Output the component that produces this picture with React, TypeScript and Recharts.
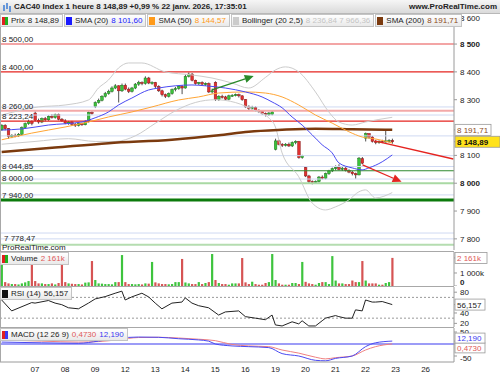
import React from 'react';
import { ComposedChart, Bar, Line, XAxis, YAxis, ReferenceLine } from 'recharts';

const FONT = '"Liberation Sans", Arial, sans-serif';
const SLOTS = 136; // 118 hourly candles + room for 23 and 26 janv.
const AXIS_W = 46;

// hourly candles, from 05/01 17h to 22/01 17h
const opens = [
  8192, 8208, 8196, 8168, 8172, 8170, 8176, 8200, 8214, 8222,
  8252, 8226, 8220, 8232, 8228, 8240, 8236, 8246, 8230,
  8224, 8216, 8220, 8212, 8208, 8214, 8210, 8222, 8254,
  8275, 8290, 8298, 8312, 8322, 8330, 8342, 8350, 8332,
  8352, 8338, 8330, 8342, 8356, 8362, 8358, 8378, 8358,
  8362, 8348, 8332, 8318, 8312, 8322, 8336, 8340, 8348,
  8342, 8384, 8392, 8370, 8358, 8362, 8356, 8358, 8328,
  8362, 8300, 8312, 8310, 8302, 8314, 8316, 8318, 8314,
  8300, 8274, 8268, 8272, 8262, 8258, 8250, 8246, 8248,
  8122, 8152, 8140, 8136, 8140, 8134, 8146, 8150, 8092,
  8056, 8026, 8006, 8004, 8006, 8022, 8018, 8034, 8044,
  8052, 8056, 8050, 8054, 8046, 8040, 8034, 8030, 8088,
  8162, 8178, 8166, 8150, 8146, 8150, 8148, 8152, 8154,
];
const highs = [
  8212, 8212, 8198, 8176, 8178, 8180, 8204, 8218, 8228, 8226,
  8258, 8232, 8236, 8238, 8244, 8248, 8250, 8250, 8234,
  8230, 8224, 8224, 8216, 8218, 8218, 8226, 8258, 8262,
  8294, 8304, 8316, 8328, 8336, 8348, 8356, 8352, 8358,
  8358, 8344, 8346, 8360, 8368, 8366, 8384, 8382, 8366,
  8364, 8352, 8336, 8322, 8326, 8340, 8346, 8350, 8352,
  8390, 8398, 8396, 8372, 8364, 8366, 8362, 8362, 8340,
  8366, 8316, 8318, 8314, 8318, 8320, 8322, 8322, 8316,
  8302, 8280, 8278, 8276, 8266, 8262, 8254, 8256, 8260,
  8160, 8156, 8144, 8144, 8146, 8150, 8154, 8152, 8102,
  8060, 8030, 8010, 8010, 8026, 8028, 8038, 8048, 8056,
  8064, 8068, 8060, 8058, 8050, 8044, 8038, 8094, 8094,
  8182, 8180, 8170, 8156, 8154, 8156, 8190, 8158, 8160,
];
const lows = [
  8188, 8190, 8160, 8162, 8165, 8166, 8172, 8196, 8210, 8208,
  8222, 8214, 8216, 8222, 8224, 8232, 8232, 8226, 8220,
  8212, 8210, 8206, 8202, 8204, 8206, 8208, 8218, 8246,
  8270, 8286, 8294, 8308, 8318, 8326, 8338, 8290, 8328,
  8334, 8324, 8326, 8338, 8350, 8352, 8354, 8356, 8354,
  8342, 8328, 8312, 8306, 8308, 8318, 8330, 8336, 8320,
  8340, 8380, 8366, 8354, 8352, 8352, 8350, 8324, 8322,
  8296, 8296, 8304, 8298, 8298, 8310, 8312, 8308, 8296,
  8270, 8262, 8262, 8258, 8252, 8246, 8240, 8242, 8244,
  8118, 8136, 8130, 8132, 8130, 8130, 8140, 8088, 8088,
  8022, 8000, 7996, 7998, 8002, 8014, 8014, 8030, 8040,
  8046, 8046, 8044, 8042, 8036, 8028, 8016, 8028, 8068,
  8150, 8160, 8146, 8140, 8142, 8144, 8146, 8146, 8142,
];
const closes = [
  8208, 8196, 8168, 8172, 8170, 8176, 8200, 8214, 8222, 8215,
  8226, 8220, 8232, 8228, 8240, 8236, 8246, 8230, 8224,
  8216, 8220, 8212, 8208, 8214, 8210, 8222, 8254, 8250,
  8290, 8298, 8312, 8322, 8330, 8342, 8350, 8332, 8352,
  8338, 8330, 8342, 8356, 8362, 8358, 8378, 8360, 8362,
  8348, 8332, 8318, 8312, 8322, 8336, 8340, 8348, 8342,
  8384, 8392, 8370, 8358, 8362, 8356, 8358, 8328, 8332,
  8300, 8312, 8310, 8302, 8314, 8316, 8318, 8314, 8300,
  8274, 8268, 8272, 8262, 8258, 8250, 8246, 8252, 8256,
  8152, 8140, 8136, 8140, 8134, 8146, 8150, 8092, 8098,
  8026, 8006, 8004, 8006, 8022, 8018, 8034, 8044, 8052,
  8056, 8050, 8054, 8046, 8040, 8034, 8030, 8090, 8072,
  8178, 8166, 8150, 8146, 8150, 8148, 8152, 8154, 8148.89,
];
// volume in thousands
const volumes = [
  2400, 300, 200, 150, 150, 120, 200, 280, 380, 1850,
  380, 200, 200, 150, 150, 200, 120, 230, 2230,
  300, 200, 170, 150, 150, 120, 260, 280, 1920,
  460, 200, 180, 150, 150, 130, 300, 300, 2380,
  300, 150, 150, 130, 150, 120, 200, 180, 1850,
  280, 200, 150, 150, 130, 150, 300, 300, 2080,
  270, 200, 150, 150, 300, 150, 230, 300, 2460,
  460, 230, 150, 150, 100, 200, 200, 200, 2150,
  280, 150, 330, 150, 100, 100, 230, 300, 2460,
  460, 200, 100, 100, 100, 230, 230, 150, 1850,
  320, 200, 150, 100, 230, 300, 300, 150, 2300,
  420, 200, 200, 150, 150, 420, 300, 300, 1920,
  420, 200, 200, 200, 100, 100, 230, 300, 2161,
];

// indicator lines read at [candle index, value]
const sma20: [number, number][] = [
  [0, 8191], [6, 8195], [14, 8209], [24, 8220], [28, 8235], [32, 8256], [35, 8281], [39, 8306],
  [44, 8335], [47, 8342], [52, 8350], [57, 8353], [61, 8350], [67, 8342], [73, 8328], [78, 8310],
  [81, 8292], [84, 8271], [87, 8238], [90, 8209], [93, 8174], [96, 8138], [99, 8109], [101, 8073],
  [105, 8055], [108, 8048], [110, 8055], [114, 8077], [117, 8101.6],
];
const sma50: [number, number][] = [
  [0, 8156], [9, 8180], [19, 8202], [26, 8220], [32, 8238], [39, 8256], [45, 8274], [53, 8299],
  [59, 8310], [65, 8324], [73, 8328], [79, 8324], [84, 8310], [89, 8281], [94, 8245], [99, 8216],
  [104, 8185], [108, 8166], [112, 8159], [117, 8144.57],
];
const sma200: [number, number][] = [
  [0, 8112], [16, 8128], [32, 8144], [51, 8156], [65, 8172], [74, 8185], [84, 8192], [94, 8196],
  [105, 8194], [117, 8191.71],
];
const bollUp: [number, number][] = [
  [0, 8245], [11, 8274], [19, 8281], [26, 8299], [29, 8342], [32, 8371], [35, 8414], [38, 8432],
  [42, 8432], [49, 8400], [57, 8389], [63, 8378], [69, 8360], [74, 8342], [79, 8380], [82, 8407],
  [85, 8418], [89, 8400], [94, 8328], [98, 8256], [101, 8220], [105, 8209], [109, 8220], [117, 8236.84],
];
const bollDn: [number, number][] = [
  [0, 8140], [10, 8150], [20, 8160], [28, 8150], [34, 8150], [40, 8170], [46, 8215], [52, 8260],
  [58, 8290], [64, 8300], [70, 8290], [76, 8260], [80, 8235], [82, 8202], [84, 8109], [89, 8023],
  [93, 7929], [97, 7904], [100, 7915], [104, 7940], [107, 7969], [109, 7976], [112, 7947], [117, 7966.36],
];
const rsi: [number, number][] = [
  [0, 65], [3, 44], [9, 60], [10, 59], [14, 64], [16, 59], [18, 56], [20, 50], [23, 48], [26, 59],
  [28, 67], [31, 71.5], [34, 78], [36, 82], [37, 65], [39, 71], [42, 78], [44, 71], [46, 59], [48, 48],
  [51, 59], [54, 61], [55, 69], [57, 59], [59, 54], [62, 50], [65, 36], [67, 42], [71, 44], [73, 33],
  [76, 30], [79, 27], [81, 36], [82, 17], [84, 15], [87, 23], [89, 19], [90, 25], [92, 15], [94, 15],
  [96, 25], [97, 30], [100, 35], [101, 33], [103, 30], [105, 30], [106, 46], [108, 44], [109, 65],
  [111, 61], [112, 61], [114, 62], [117, 56.157],
];
const macdBlue: [number, number][] = [
  [0, 8], [12, 5], [23, 3], [29, 12], [35, 24], [41, 29], [47, 28], [53, 22], [59, 17], [62, 12],
  [64, 0], [69, -8], [74, -11], [80, -15], [84, -40], [89, -50], [94, -68], [97, -70], [100, -60],
  [105, -50], [109, -11], [112, 5], [117, 12.19],
];
const macdRed: [number, number][] = [
  [0, 17], [12, 12], [23, 8], [29, 10], [35, 18], [41, 27], [47, 28], [53, 25], [59, 20], [64, 14],
  [69, -2], [74, -8], [80, -11], [84, -25], [89, -38], [94, -55], [97, -62], [100, -57], [105, -50],
  [109, -25], [112, -11], [117, 0.473],
];

const dayLabels = ['07', '08', '09', '12', '13', '14', '15', '16', '19', '20', '21', '22', '23', '26'];
const dayStart = [10, 19, 28, 37, 46, 55, 64, 73, 82, 91, 100, 109, 118, 127];

const priceTicks = [7800, 7900, 8000, 8100, 8300, 8400, 8500, 8600];

// drawn horizontal levels
const levels = [
  { v: 8500, color: '#f3a5a5', w: 2, label: '8 500,00' },
  { v: 8400, color: '#e52420', w: 1.2, label: '8 400,00' },
  { v: 8274, color: '#cfd9f2', w: 1 },
  { v: 8260, color: '#f3a9a9', w: 2, label: '8 260,00' },
  { v: 8245, color: '#cfd9f2', w: 1 },
  { v: 8223.24, color: '#e52420', w: 1.2, label: '8 223,24' },
  { v: 8170, color: '#cfd9f2', w: 1 },
  { v: 8099, color: '#cfd9f2', w: 1 },
  { v: 8060, color: '#cfd9f2', w: 1 },
  { v: 8044.85, color: '#2f8a2f', w: 1.2, label: '8 044,85' },
  { v: 8015, color: '#cfd9f2', w: 1 },
  { v: 8000, color: '#a9d9a3', w: 2, label: '8 000,00' },
  { v: 7958, color: '#cfd9f2', w: 1 },
  { v: 7940, color: '#0c7a0c', w: 3, label: '7 940,00' },
  { v: 7821, color: '#cfd9f2', w: 1 },
  { v: 7800, color: '#cfd9f2', w: 1 },
  { v: 7778.47, color: '#b5ddb0', w: 2, label: '7 778,47' },
];

const arrows = [
  { x1: 63, y1: 8335, x2: 75.5, y2: 8385, color: '#2a8a2a', head: true },
  { x1: 111.7, y1: 8152, x2: 135.3, y2: 8087, color: '#e52420', head: false },
  { x1: 108.1, y1: 8066, x2: 119.8, y2: 8005, color: '#e52420', head: true },
];

// last-value boxes on the right axes
type BoxSpec = { v: number; text: string; color: string; bg: string; bold?: boolean; w: number; dy?: number; h?: number };
const priceBoxes: BoxSpec[] = [
  { v: 8191.71, text: '8 191,71', color: '#8b4a1a', bg: '#ffffff', w: 36 },
  { v: 8148.89, text: '8 148,89', color: '#111111', bg: '#ffe21a', bold: true, w: 45 },
];
const volumeBoxes: BoxSpec[] = [{ v: 2161, text: '2 161k', color: '#e05858', bg: '#ffffff', w: 32 }];
const rsiBoxes: BoxSpec[] = [{ v: 56.157, text: '56,157', color: '#222222', bg: '#ffffff', w: 30 }];
const macdBoxes: BoxSpec[] = [
  { v: 12.19, text: '12,190', color: '#3a3af0', bg: '#ffffff', w: 30, dy: -3, h: 10 },
  { v: 0.473, text: '0,4730', color: '#e05858', bg: '#ffffff', w: 30, dy: 4, h: 10 },
];

type Row = { i: number; [k: string]: number | undefined };
const rows: Row[] = Array.from({ length: SLOTS }, (_, i) => ({ i }));
opens.forEach((o, i) => {
  Object.assign(rows[i], { o, h: highs[i], l: lows[i], c: closes[i], v: volumes[i] });
});
const put = (key: string, pts: [number, number][]) => pts.forEach(([i, v]) => { rows[i][key] = v; });
put('sma20', sma20);
put('sma50', sma50);
put('sma200', sma200);
put('bu', bollUp);
put('bd', bollDn);
put('rsi', rsi);
put('mb', macdBlue);
put('mr', macdRed);

const grp = (v: number) => String(v).replace(/\B(?=(\d{3})+(?!\d))/g, ' ');

const Candle = (p: any) => {
  const { x, y, width, height, payload } = p;
  if (!payload || payload.o == null) return null;
  const top = Math.min(y, y + height);
  const bot = Math.max(y, y + height);
  const k = (bot - top) / (payload.h - payload.l);
  const py = (v: number) => top + (payload.h - v) * k;
  const cx = x + width / 2;
  const up = payload.c >= payload.o;
  const b1 = py(Math.max(payload.o, payload.c));
  const b2 = py(Math.min(payload.o, payload.c));
  return (
    <g>
      <line x1={cx} x2={cx} y1={top} y2={bot} stroke="#222" strokeWidth={0.8} />
      <rect x={cx - 1.3} y={b1} width={2.6} height={Math.max(1, b2 - b1)}
        fill={up ? '#3cc23c' : '#e23030'} stroke={up ? '#1c7a1c' : '#8e1a1a'} strokeWidth={0.5} />
    </g>
  );
};

const VolBar = (p: any) => {
  const { x, y, width, height, payload } = p;
  if (!payload || payload.o == null) return null;
  const up = payload.c >= payload.o;
  return <rect x={x + width / 2 - 1.1} y={y} width={2.2} height={Math.max(0, height)} fill={up ? '#3ec43e' : '#d65454'} />;
};

const arrowShape = (color: string, head: boolean) => (p: any) => {
  const { x1, y1, x2, y2 } = p;
  if ([x1, y1, x2, y2].some((n) => n == null || isNaN(n))) return <g />;
  const a = Math.atan2(y2 - y1, x2 - x1);
  const L = 9, Wd = 4;
  const bx = x2 - L * Math.cos(a), by = y2 - L * Math.sin(a);
  const pts = `${x2},${y2} ${bx + Wd * Math.sin(a)},${by - Wd * Math.cos(a)} ${bx - Wd * Math.sin(a)},${by + Wd * Math.cos(a)}`;
  return (
    <g>
      <line x1={x1} y1={y1} x2={head ? bx : x2} y2={head ? by : y2} stroke={color} strokeWidth={1.3} />
      {head && <polygon points={pts} fill={color} />}
    </g>
  );
};

// axis tick renderer: plain value labels, and the value boxes drawn last so they cover the labels
const makeTick = (fmt: (v: number) => string, boxes: BoxSpec[], isBold: (v: number) => boolean = () => false, shift: (v: number) => number = () => 0) =>
  (p: any) => {
    const v = p.payload.value;
    const b = boxes.find((bb) => bb.v === v);
    if (b) {
      const x = p.x - 5;
      const y = p.y + (b.dy ?? 0);
      const h = b.h ?? 11;
      return (
        <g>
          <rect x={x} y={y - h / 2} width={b.w} height={h} fill={b.bg} stroke="#9a9a9a" strokeWidth={0.8} />
          <text x={x + 2} y={y + 3} fontSize={8} fill={b.color} fontWeight={b.bold ? 'bold' : 'normal'} fontFamily={FONT}>{b.text}</text>
        </g>
      );
    }
    return (
      <text x={p.x} y={p.y + 3 + shift(v)} fontSize={8} fontFamily={FONT} fill="#222" fontWeight={isBold(v) ? 'bold' : 'normal'}>{fmt(v)}</text>
    );
  };

const xAxisHidden = <XAxis type="number" dataKey="i" domain={[-0.5, SLOTS - 0.5]} allowDataOverflow hide />;

const axisProps = {
  orientation: 'right' as const,
  width: AXIS_W,
  allowDataOverflow: true,
  interval: 0,
  tickSize: 3,
  tickMargin: 3,
  axisLine: { stroke: '#9a9a9a' },
  tickLine: { stroke: '#9a9a9a' },
};

const m0 = { top: 0, right: 0, bottom: 0, left: 0 };

function PricePanel() {
  return (
    <ComposedChart width={500} height={236} data={rows} margin={m0}>
      {xAxisHidden}
      <YAxis {...axisProps} domain={[7760, 8608]} ticks={[...priceTicks, ...priceBoxes.map((b) => b.v)]}
        tick={makeTick(grp, priceBoxes, (v) => v % 500 === 0, (v) => (v === 8600 ? 2 : 0))} />
      {levels.map((l) => (
        <ReferenceLine key={l.v} y={l.v} stroke={l.color} strokeWidth={l.w} ifOverflow="visible"
          label={l.label ? { value: l.label, position: 'insideBottomLeft', offset: l.v < 7790 ? 4 : 2, fontSize: 8, fill: '#222', fontFamily: FONT } : undefined} />
      ))}
      <Line dataKey="bu" stroke="#cccccc" strokeWidth={1} dot={false} connectNulls type="monotone" isAnimationActive={false} />
      <Line dataKey="bd" stroke="#cccccc" strokeWidth={1} dot={false} connectNulls type="monotone" isAnimationActive={false} />
      <Line dataKey="sma200" stroke="#7b3a0e" strokeWidth={2.5} dot={false} connectNulls type="monotone" isAnimationActive={false} />
      <Line dataKey="sma50" stroke="#ffa535" strokeWidth={1} dot={false} connectNulls type="monotone" isAnimationActive={false} />
      <Line dataKey="sma20" stroke="#4a4af2" strokeWidth={1} dot={false} connectNulls type="monotone" isAnimationActive={false} />
      <Bar dataKey={(r: Row) => (r.o == null ? null : [r.l, r.h])} shape={Candle} isAnimationActive={false} />
      {arrows.map((a, k) => (
        <ReferenceLine key={k} segment={[{ x: a.x1, y: a.y1 }, { x: a.x2, y: a.y2 }]} ifOverflow="visible"
          shape={arrowShape(a.color, a.head)} />
      ))}
    </ComposedChart>
  );
}

function VolumePanel() {
  return (
    <ComposedChart width={500} height={34} data={rows} margin={m0}>
      {xAxisHidden}
      <YAxis {...axisProps} domain={[0, 2615]} ticks={[0, 1000, 2161]}
        tick={makeTick((v) => (v === 0 ? '0' : grp(v) + 'k'), volumeBoxes, (v) => v === 0, (v) => (v === 0 ? -4 : 0))} />
      <Bar dataKey="v" shape={VolBar} isAnimationActive={false} />
    </ComposedChart>
  );
}

function RsiPanel() {
  return (
    <ComposedChart width={500} height={40} data={rows} margin={m0}>
      {xAxisHidden}
      <YAxis {...axisProps} domain={[13, 90]} ticks={[20, 40, 80, 56.157]} tick={makeTick((v) => String(v), rsiBoxes)} />
      <ReferenceLine y={70} stroke="#999" strokeDasharray="2 2" />
      <ReferenceLine y={30} stroke="#999" strokeDasharray="2 2" />
      <Line dataKey="rsi" stroke="#222" strokeWidth={1} dot={false} connectNulls isAnimationActive={false} />
    </ComposedChart>
  );
}

function MacdPanel() {
  return (
    <ComposedChart width={500} height={47} data={rows} margin={m0}>
      <XAxis type="number" dataKey="i" domain={[-0.5, SLOTS - 0.5]} allowDataOverflow ticks={dayStart} interval={0}
        tickFormatter={(v: number) => dayLabels[dayStart.indexOf(v)] ?? ''} height={13} tickSize={0} tickMargin={4}
        axisLine={{ stroke: '#9a9a9a' }} tick={{ fontSize: 8, fill: '#222', fontFamily: FONT }} />
      <YAxis {...axisProps} domain={[-75, 66.7]} ticks={[-50, 50, 0.473, 12.19]}
        tick={makeTick((v) => String(v), macdBoxes, () => false, (v) => (v === -50 ? 1.5 : 0))} />
      <ReferenceLine y={0} stroke="#3a3af0" strokeWidth={1.2} />
      <Line dataKey="mr" stroke="#f08080" strokeWidth={1} dot={false} connectNulls type="monotone" isAnimationActive={false} />
      <Line dataKey="mb" stroke="#4a4af2" strokeWidth={1} dot={false} connectNulls type="monotone" isAnimationActive={false} />
    </ComposedChart>
  );
}

const boxStyle: React.CSSProperties = {
  display: 'inline-flex', alignItems: 'center', gap: 3, height: 11, padding: '0 3px 0 1px',
  border: '1px solid #c4c4c4', background: 'linear-gradient(#ffffff, #e9e9e9)', fontSize: 8,
  color: '#222', whiteSpace: 'nowrap', marginRight: 1, fontFamily: FONT,
};

function Icon({ colors }: { colors: string[] }) {
  return (
    <span style={{ display: 'inline-flex' }}>
      {colors.map((c, k) => <span key={k} style={{ width: colors.length > 1 ? 3 : 6, height: 8, background: c }} />)}
    </span>
  );
}

function Tag({ colors, parts }: { colors: string[]; parts: [string, string][] }) {
  return (
    <span style={boxStyle}>
      <Icon colors={colors} />
      {parts.map(([t, c], k) => <span key={k} style={{ color: c }}>{t}</span>)}
    </span>
  );
}

const legendItems: { colors: string[]; parts: [string, string][] }[] = [
  { colors: ['#e02020', '#20b020'], parts: [['Prix', '#222'], ['8 148,89', '#222']] },
  { colors: ['#1a1aff'], parts: [['SMA (20)', '#222'], ['8 101,60', '#1a1aff']] },
  { colors: ['#ff9a1a'], parts: [['SMA (50)', '#222'], ['8 144,57', '#ff9a1a']] },
  { colors: ['#cccccc'], parts: [['Bollinger (20 2,5)', '#222'], ['8 236,84  7 966,36', '#c4c4c4']] },
  { colors: ['#7b3a0e'], parts: [['SMA (200)', '#222'], ['8 191,71', '#8b4a1a']] },
];

const sep = (top: number) => (
  <div style={{ position: 'absolute', left: 0, top, width: 454, height: 1, background: '#a8a8a8' }} />
);

export default function App() {
  return (
    <div style={{ position: 'absolute', left: 0, top: 0, width: 500, height: 375, background: '#fff', overflow: 'hidden', fontFamily: FONT }}>
      <div style={{ position: 'absolute', left: 0, top: 14 }}><PricePanel /></div>
      <div style={{ position: 'absolute', left: 0, top: 252 }}><VolumePanel /></div>
      <div style={{ position: 'absolute', left: 0, top: 287 }}><RsiPanel /></div>
      <div style={{ position: 'absolute', left: 0, top: 328 }}><MacdPanel /></div>
      {sep(251)}
      {sep(286)}
      {sep(327)}
      <div style={{ position: 'absolute', left: 0, top: 14, width: 1, height: 348, background: '#a8a8a8' }} />

      <div style={{
        position: 'absolute', left: 0, top: 0, width: 500, height: 13, borderBottom: '1px solid #b8b8b8',
        background: 'linear-gradient(#f6f6f6, #dadada)', display: 'flex', alignItems: 'center', fontSize: 8, fontWeight: 'bold', color: '#222',
      }}>
        <svg width={10} height={10} style={{ margin: '0 2px 0 2px' }}>
          <line x1={2} y1={3} x2={2} y2={9} stroke="#3a7bd5" strokeWidth={1.5} />
          <line x1={5} y1={1} x2={5} y2={7} stroke="#3a7bd5" strokeWidth={1.5} />
          <line x1={8} y1={4} x2={8} y2={10} stroke="#3a7bd5" strokeWidth={1.5} />
        </svg>
        <span>CAC40 Index 1 heure 8 148,89 +0,99 % 22 janv. 2026, 17:35:01</span>
        <span style={{ marginLeft: 'auto', marginRight: 3 }}>www.ProRealTime.com</span>
      </div>

      <div style={{ position: 'absolute', left: 0, top: 14, display: 'flex' }}>
        {legendItems.map((it, k) => <Tag key={k} colors={it.colors} parts={it.parts} />)}
      </div>
      <div style={{ position: 'absolute', left: 2, top: 244, fontSize: 8, lineHeight: '7px', color: '#222' }}>ProRealTime.com</div>
      <div style={{ position: 'absolute', left: 0, top: 252, display: 'flex' }}>
        <Tag colors={['#e02020', '#20b020']} parts={[['Volume', '#222'], ['2 161k', '#e05858']]} />
      </div>
      <div style={{ position: 'absolute', left: 0, top: 287, display: 'flex' }}>
        <Tag colors={['#111']} parts={[['RSI (14)', '#222'], ['56,157', '#222']]} />
      </div>
      <div style={{ position: 'absolute', left: 0, top: 328, display: 'flex' }}>
        <Tag colors={['#e02020', '#3a3af0']} parts={[['MACD (12 26 9)', '#222'], ['0,4730', '#e05858'], ['12,190', '#3a3af0']]} />
      </div>
    </div>
  );
}
